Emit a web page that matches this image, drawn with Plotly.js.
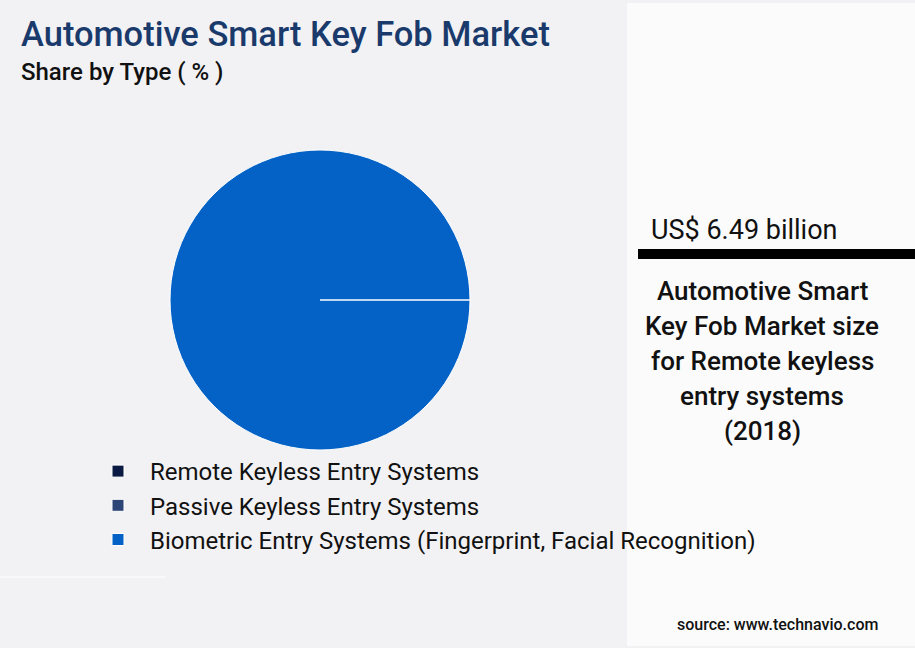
<!DOCTYPE html>
<html>
<head>
<meta charset="utf-8">
<script src="https://cdn.plot.ly/plotly-3.0.1.min.js"></script>
<style>
  html, body { margin: 0; padding: 0; background: #f2f2f4; }
  #chart { width: 915px; height: 648px; }
</style>
</head>
<body>
<div id="chart"></div>
<script>
// share by type (%)
var types = ['Remote Keyless Entry Systems', 'Passive Keyless Entry Systems', 'Biometric Entry Systems (Fingerprint, Facial Recognition)'];
var shares = [0, 0, 100];
var typeColors = ['#0b1a42', '#2e4677', '#0462c6'];

var marketValue = 'US$ 6.49 billion';
var infoLines = ['Automotive Smart', 'Key Fob Market size', 'for Remote keyless', 'entry systems', '(2018)'];

var W = 915, H = 648;
function px(x) { return x / W; }
function py(y) { return 1 - y / H; }

// zero shares still get a hairline edge like in the original
var pieValues = shares.map(function (v) { return v > 0 ? v : 1e-6; });

var trace = {
  type: 'pie',
  labels: types,
  values: pieValues,
  customdata: shares,
  sort: false,
  rotation: 90,
  textinfo: 'none',
  hovertemplate: '%{label}: %{customdata}%<extra></extra>',
  marker: { colors: typeColors, line: { color: '#ffffff', width: 1 } },
  domain: { x: [px(170), px(470)], y: [py(450), py(150)] }
};

var ann = [
  { text: 'Automotive Smart Key Fob Market', x: px(19), y: py(34), xanchor: 'left', yanchor: 'middle',
    font: { family: 'Roboto', size: 34.5, color: '#1a3a6c', weight: 500 } },
  { text: 'Share by Type ( % )', x: px(19), y: py(72), xanchor: 'left', yanchor: 'middle',
    font: { family: 'Roboto', size: 24, color: '#111111', weight: 500 } },
  { text: marketValue, x: px(649), y: py(230), xanchor: 'left', yanchor: 'middle',
    font: { family: 'Roboto', size: 27, color: '#111111' } },
  { text: 'source: www.technavio.com', x: px(880), y: py(624), xanchor: 'right', yanchor: 'middle',
    font: { family: 'Roboto', size: 16, color: '#111111', weight: 500 } }
];
infoLines.forEach(function (t, i) {
  ann.push({ text: t, x: px(762), y: py(291 + i * 35), xanchor: 'center', yanchor: 'middle',
    font: { family: 'Roboto', size: 26, color: '#111111', weight: 500 } });
});
ann.forEach(function (a) { a.xref = 'paper'; a.yref = 'paper'; a.showarrow = false; });

var layout = {
  width: W, height: H,
  margin: { l: 0, r: 0, t: 0, b: 0 },
  paper_bgcolor: '#f2f2f4',
  font: { family: 'Roboto', color: '#111111' },
  showlegend: true,
  legend: {
    x: px(86), y: py(449), xanchor: 'left', yanchor: 'top',
    font: { family: 'Roboto', size: 24, color: '#111111' },
    bgcolor: 'rgba(0,0,0,0)', itemwidth: 54
  },
  shapes: [
    { type: 'rect', xref: 'paper', yref: 'paper', x0: px(627), x1: 1, y0: py(646), y1: py(3),
      fillcolor: '#fbfbfb', line: { width: 0 }, layer: 'below' },
    { type: 'rect', xref: 'paper', yref: 'paper', x0: px(638), x1: 1, y0: py(259), y1: py(249),
      fillcolor: '#000000', line: { width: 0 } },
    { type: 'line', xref: 'paper', yref: 'paper', x0: 0, x1: px(165), y0: py(577), y1: py(577),
      line: { color: '#ffffff', width: 1 } }
  ],
  annotations: ann
};

Plotly.newPlot('chart', [trace], layout, { displayModeBar: false, staticPlot: true });
</script>
</body>
</html>
